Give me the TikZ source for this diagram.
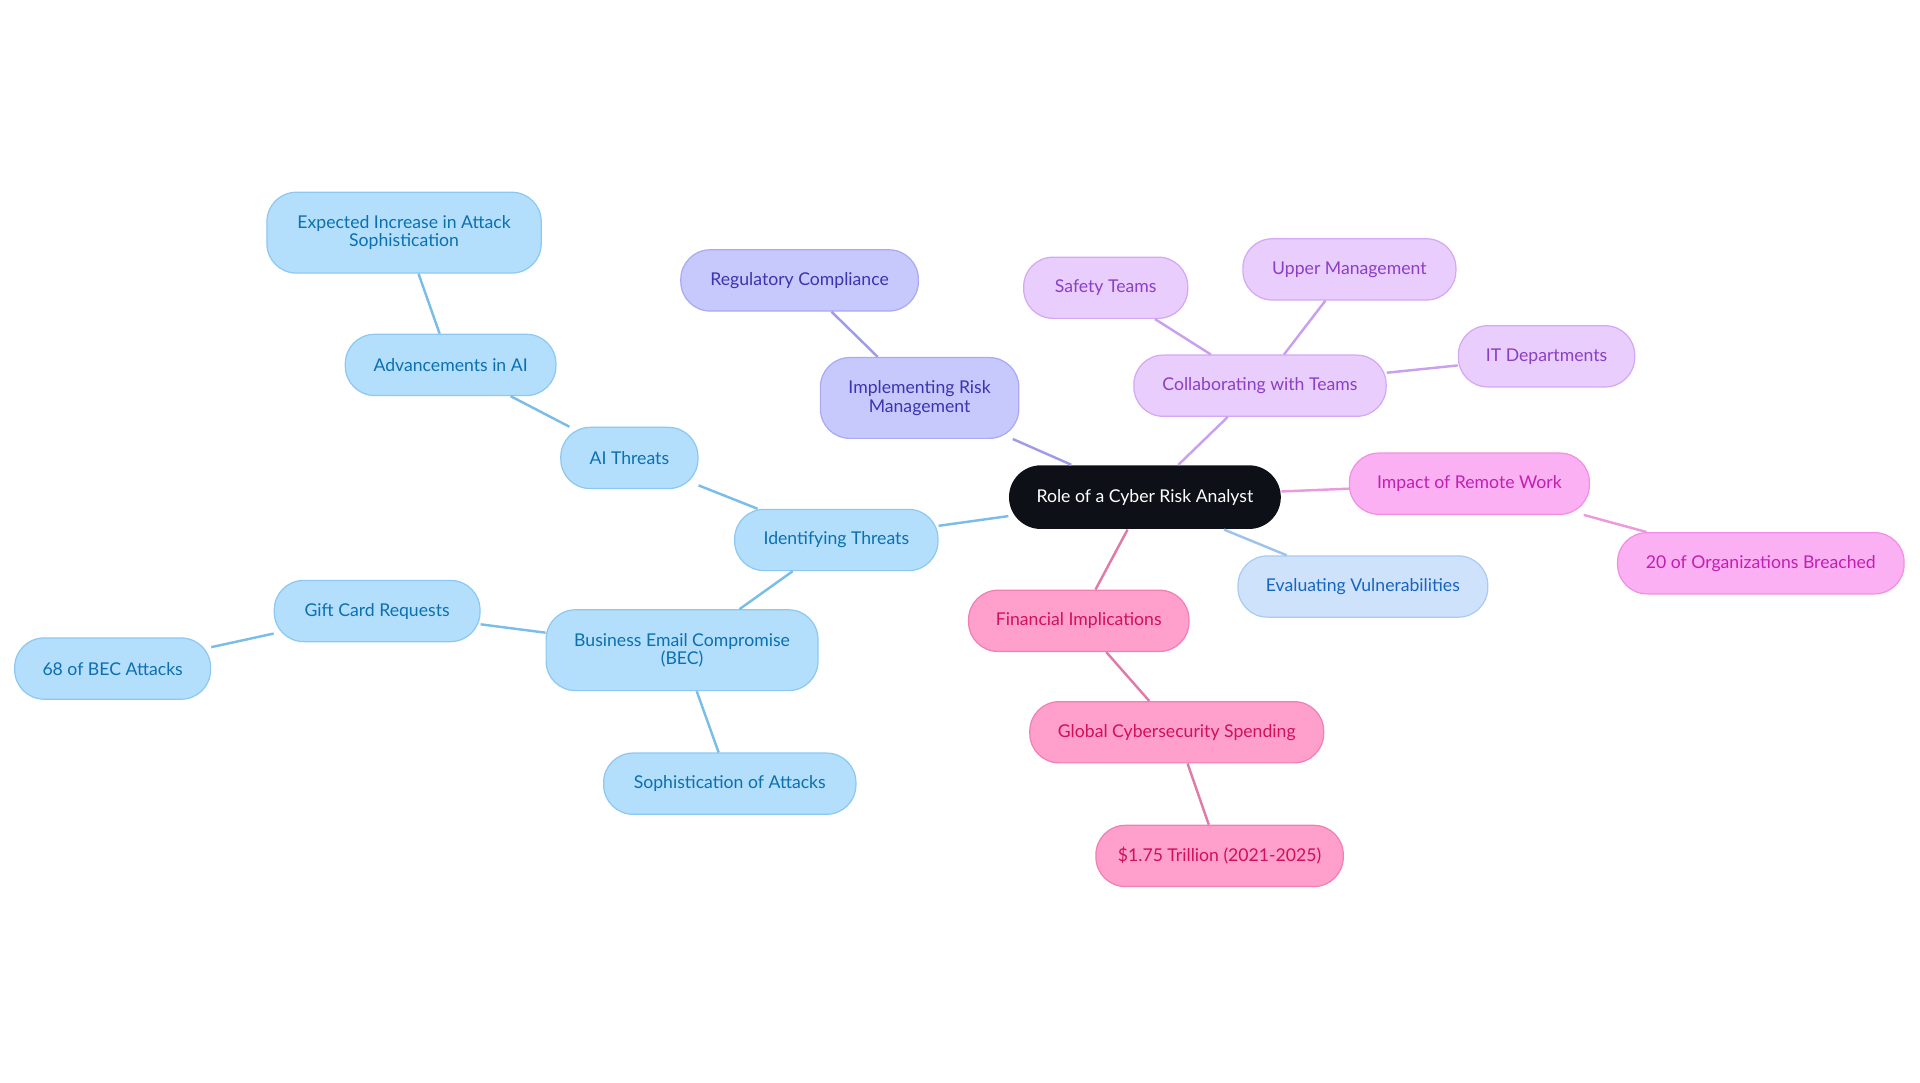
\documentclass[tikz,border=0pt]{standalone}
\usepackage{fontspec}
\setmainfont{Lato}
\definecolor{bF}{HTML}{B3DFFC}\definecolor{bD}{HTML}{8CC8F2}\definecolor{bT}{HTML}{0B6FB0}\definecolor{bL}{HTML}{7ABDE6}
\definecolor{vF}{HTML}{C7C9FD}\definecolor{vD}{HTML}{A8AAF5}\definecolor{vT}{HTML}{3A34B0}\definecolor{vL}{HTML}{A09BE8}
\definecolor{lF}{HTML}{E9CDFD}\definecolor{lD}{HTML}{D3A8F5}\definecolor{lT}{HTML}{8B3FC4}\definecolor{lL}{HTML}{C8A0EE}
\definecolor{mF}{HTML}{FBB0F3}\definecolor{mD}{HTML}{F08FE4}\definecolor{mT}{HTML}{C21FB0}\definecolor{mL}{HTML}{EC9ADE}
\definecolor{pF}{HTML}{FF9FCC}\definecolor{pD}{HTML}{F27FB4}\definecolor{pT}{HTML}{D1105A}\definecolor{pL}{HTML}{E07AA8}
\definecolor{eF}{HTML}{CFE2FB}\definecolor{eD}{HTML}{A9CBF2}\definecolor{eT}{HTML}{1565C0}\definecolor{eL}{HTML}{9CC4EA}
\definecolor{root}{HTML}{0D1117}
\tikzset{
 box/.style={rounded corners=12pt,minimum height=25pt,align=center,font=\fontsize{7.2}{7.6}\selectfont,inner sep=0pt,line width=0.5pt},
 bb/.style={box,fill=bF,draw=bD,text=bT}, vb/.style={box,fill=vF,draw=vD,text=vT},
 lb/.style={box,fill=lF,draw=lD,text=lT}, mb/.style={box,fill=mF,draw=mD,text=mT},
 pb/.style={box,fill=pF,draw=pD,text=pT}, eb/.style={box,fill=eF,draw=eD,text=eT},
 ln/.style={line width=1pt}
}
\begin{document}
\begin{tikzpicture}[x=0.5pt,y=-0.5pt]
\useasboundingbox (0,0) rectangle (1568,884);
\node[box,fill=root,text=white,minimum width=111pt,minimum height=26pt,rounded corners=13pt] (r) at (935,406) {Role of a Cyber Risk Analyst};
\node[bb,minimum width=83pt] (it) at (683,441) {Identifying Threats};
\node[bb,minimum width=56pt] (ai) at (514,374) {AI Threats};
\node[bb,minimum width=86pt] (adv) at (368,298) {Advancements in AI};
\node[bb,minimum width=112pt,minimum height=33pt] (exp) at (330,190) {Expected Increase in Attack\\Sophistication};
\node[bb,minimum width=111pt,minimum height=33pt] (bec) at (557,531) {Business Email Compromise\\(BEC)};
\node[bb,minimum width=84pt] (gc) at (308,499) {Gift Card Requests};
\node[bb,minimum width=80pt] (s68) at (92,546) {68 of BEC Attacks};
\node[bb,minimum width=103pt] (soph) at (596,640) {Sophistication of Attacks};
\node[vb,minimum width=81pt,minimum height=33pt] (irm) at (751,325) {Implementing Risk\\Management};
\node[vb,minimum width=97pt] (reg) at (653,229) {Regulatory Compliance};
\node[lb,minimum width=103pt] (col) at (1029,315) {Collaborating with Teams};
\node[lb,minimum width=67pt] (saf) at (903,235) {Safety Teams};
\node[lb,minimum width=87pt] (up) at (1102,220) {Upper Management};
\node[lb,minimum width=72pt] (itd) at (1263,291) {IT Departments};
\node[mb,minimum width=98pt] (rw) at (1200,395) {Impact of Remote Work};
\node[mb,minimum width=117pt] (o20) at (1438,460) {20 of Organizations Breached};
\node[eb,minimum width=102pt] (ev) at (1113,479) {Evaluating Vulnerabilities};
\node[pb,minimum width=90pt] (fin) at (881,507) {Financial Implications};
\node[pb,minimum width=120pt] (gcs) at (961,598) {Global Cybersecurity Spending};
\node[pb,minimum width=101pt] (tr) at (996,699) {\$1.75 Trillion (2021-2025)};
\begin{scope}[on background layer/.style={}]
\end{scope}
\begin{pgfinterruptboundingbox}\end{pgfinterruptboundingbox}
\begin{scope}[ln]
\draw[bL] (r) -- (it); \draw[bL] (it) -- (ai); \draw[bL] (ai) -- (adv); \draw[bL] (adv) -- (exp);
\draw[bL] (it) -- (bec); \draw[bL] (bec) -- (gc); \draw[bL] (gc) -- (s68); \draw[bL] (bec) -- (soph);
\draw[vL] (r) -- (irm); \draw[vL] (irm) -- (reg);
\draw[lL] (r) -- (col); \draw[lL] (col) -- (saf); \draw[lL] (col) -- (up); \draw[lL] (col) -- (itd);
\draw[mL] (r) -- (rw); \draw[mL] (rw) -- (o20);
\draw[eL] (r) -- (ev);
\draw[pL] (r) -- (fin); \draw[pL] (fin) -- (gcs); \draw[pL] (gcs) -- (tr);
\end{scope}
\end{tikzpicture}
\end{document}
